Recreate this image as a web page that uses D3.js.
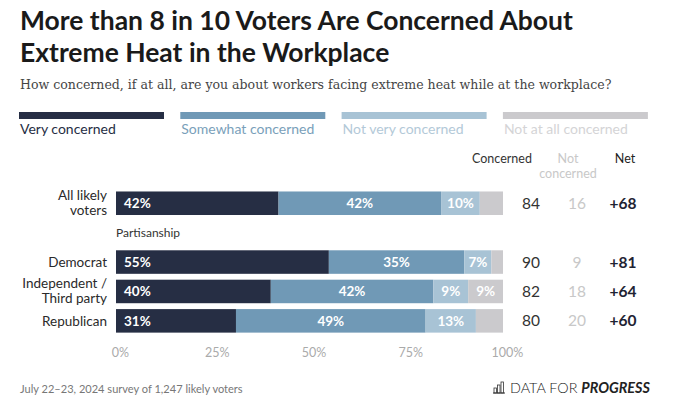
<!DOCTYPE html>
<html>
<head>
<meta charset="utf-8">
<script src="https://cdn.jsdelivr.net/npm/d3@7"></script>
<style>
  body { margin: 0; background: #fff; }
  svg { display: block; font-family: Lato, "Open Sans", sans-serif; }
</style>
</head>
<body>
<svg id="chart" width="689" height="420"></svg>
<script>
// Chart data
const categories = ["Very concerned", "Somewhat concerned", "Not very concerned", "Not at all concerned"];
const colors = ["#262e44", "#7099b6", "#a8c3d5", "#cbcacd"];
const legendTextColors = ["#262e44", "#7a9fba", "#b3c9d8", "#d4d4d6"];
const groups = ["All likely voters", "Democrat", "Independent / Third party", "Republican"];
const groupLines = [["All likely", "voters"], ["Democrat"], ["Independent /", "Third party"], ["Republican"]];
const veryConcerned = [42, 55, 40, 31];
const somewhatConcerned = [42, 35, 42, 49];
const notVeryConcerned = [10, 7, 9, 13];
const notAtAllConcerned = [6, 3, 9, 7];
const concernedTotal = [84, 90, 82, 80];
const notConcernedTotal = [16, 9, 18, 20];
const netValues = ["+68", "+81", "+64", "+60"];
const tickValues = [0, 25, 50, 75, 100];

const svg = d3.select("#chart");

// Shrink/grow a text's font so it spans a given width
function fitWidth(sel, target) {
    const size = parseFloat(sel.style("font-size"));
    const len = sel.node().getComputedTextLength();
    sel.style("font-size", (size * target / len).toFixed(2) + "px");
    return size * target / len;
}

// Title
const t1 = svg.append("text").attr("x", 20).attr("y", 30)
    .style("font-size", "27px").style("font-weight", 700).style("fill", "#1a1a1a")
    .text("More than 8 in 10 Voters Are Concerned About");
const titleSize = fitWidth(t1, 553);
svg.append("text").attr("x", 20).attr("y", 62)
    .style("font-size", titleSize + "px").style("font-weight", 700).style("fill", "#1a1a1a")
    .text("Extreme Heat in the Workplace");

const sub = svg.append("text").attr("x", 20).attr("y", 89)
    .style("font-family", "'DejaVu Serif', 'Liberation Serif', serif")
    .style("font-size", "15px").style("fill", "#444")
    .text("How concerned, if at all, are you about workers facing extreme heat while at the workplace?");
fitWidth(sub, 592);

// Legend
const legend = svg.append("g").selectAll("g")
    .data(categories)
    .enter().append("g")
    .attr("transform", (d, i) => `translate(${19 + i * 161.3},112)`);

legend.append("rect")
    .attr("width", 145).attr("height", 7)
    .style("fill", (d, i) => colors[i]);

legend.append("text")
    .attr("x", 1).attr("y", 22)
    .style("font-size", "14px")
    .style("fill", (d, i) => legendTextColors[i])
    .text(d => d);

// Scales
const x = d3.scaleLinear().domain([0, 100]).range([116, 503]);
const slots = ["All likely voters", "Partisanship", "Democrat", "Independent / Third party", "Republican"];
const y = d3.scaleBand().domain(slots).range([185.6, 338.5]).padding(0.2);

// Stack the four response series
const rows = groups.map((g, i) => ({
    group: g,
    lines: groupLines[i],
    values: [veryConcerned[i], somewhatConcerned[i], notVeryConcerned[i], notAtAllConcerned[i]]
}));
rows.forEach(r => {
    let acc = 0;
    r.segs = r.values.map((v, k) => {
        const s = { k: k, v: v, x0: acc, x1: acc + v };
        acc += v;
        return s;
    });
});

const rowG = svg.append("g").selectAll("g")
    .data(rows)
    .enter().append("g")
    .attr("transform", d => `translate(0,${y(d.group)})`);

rowG.selectAll("rect")
    .data(d => d.segs)
    .enter().append("rect")
    .attr("x", d => x(d.x0))
    .attr("width", d => x(d.x1) - x(d.x0))
    .attr("height", y.bandwidth())
    .style("fill", d => colors[d.k]);

// Values inside segments (first one left aligned, others centred)
rowG.selectAll("text.val")
    .data(d => d.segs.filter(s => s.v >= (s.k === 3 ? 8 : 7)))
    .enter().append("text")
    .attr("class", "val")
    .attr("x", d => d.k === 0 ? x(d.x0) + 8 : (x(d.x0) + x(d.x1)) / 2)
    .attr("y", y.bandwidth() / 2)
    .attr("dy", "0.36em")
    .style("text-anchor", d => d.k === 0 ? "start" : "middle")
    .style("font-size", "13.5px").style("font-weight", 700).style("fill", "#fff")
    .text(d => d.v + "%");

// Group labels, one tspan per line
const lineGap = 15.5;
rowG.append("text")
    .style("text-anchor", "end")
    .style("font-size", "13.5px").style("fill", "#2a2a2a")
    .selectAll("tspan")
    .data(d => d.lines.map((l, i) => ({ text: l, i: i, n: d.lines.length })))
    .enter().append("tspan")
    .attr("x", 107)
    .attr("y", d => y.bandwidth() / 2 + 5 - (d.n - 1) * 8.5 + d.i * lineGap)
    .text(d => d.text);

// Summary columns
const cols = [
    { head: ["Concerned"], hx: 502, nx: 531, vals: concernedTotal, color: "#333", weight: 400, hcolor: "#333" },
    { head: ["Not", "concerned"], hx: 568, nx: 577, vals: notConcernedTotal, color: "#c8c8c8", weight: 400, hcolor: "#c8c8c8" },
    { head: ["Net"], hx: 625, nx: 623, vals: netValues, color: "#1f2433", weight: 700, hcolor: "#222" }
];

cols.forEach(c => {
    svg.append("text")
        .attr("x", c.hx).attr("y", 163)
        .style("text-anchor", "middle").style("font-size", "12.5px").style("fill", c.hcolor)
        .selectAll("tspan")
        .data(c.head)
        .enter().append("tspan")
        .attr("x", c.hx)
        .attr("dy", (d, i) => i === 0 ? 0 : 15)
        .text(d => d);

    rowG.append("text")
        .attr("x", c.nx)
        .attr("y", y.bandwidth() / 2)
        .attr("dy", "0.36em")
        .style("text-anchor", "middle").style("font-size", "15.5px")
        .style("font-weight", c.weight).style("fill", c.color)
        .text((d, i) => c.vals[i]);
});

// Partisanship sub-heading
svg.append("text")
    .attr("x", 116).attr("y", y("Partisanship") + y.bandwidth() / 2)
    .attr("dy", "0.36em")
    .style("font-size", "12px").style("fill", "#333")
    .text("Partisanship");

// X axis
const axis = svg.append("g")
    .attr("transform", "translate(0,345)")
    .call(d3.axisBottom(x).tickValues(tickValues).tickSize(0).tickPadding(3).tickFormat(d => d + "%"));
axis.select(".domain").remove();
axis.selectAll("text")
    .attr("dx", 4)
    .style("font-family", "Lato, sans-serif").style("font-size", "12.5px").style("fill", "#aaa");

// Footer
const foot = svg.append("text").attr("x", 20).attr("y", 393)
    .style("font-size", "11.5px").style("fill", "#777")
    .text("July 22\u201323, 2024 survey of 1,247 likely voters");
fitWidth(foot, 223);

// Logo
const logo = svg.append("g").attr("transform", "translate(494,393)");
[[0, 5], [3.5, 8], [7, 11]].forEach(b => {
    logo.append("rect").attr("x", b[0]).attr("y", -b[1]).attr("width", 2.5).attr("height", b[1])
        .style("fill", "none").style("stroke", "#333").style("stroke-width", 0.8);
});
logo.append("line").attr("x1", -1).attr("x2", 11).attr("y1", 0).attr("y2", 0)
    .style("stroke", "#333").style("stroke-width", 1);
const logoText = logo.append("text").attr("x", 16).attr("y", 0)
    .style("font-size", "16px").style("fill", "#222");
logoText.append("tspan").style("font-weight", 300).text("DATA FOR ");
logoText.append("tspan").style("font-weight", 700).style("font-style", "italic").text("PROGRESS");
fitWidth(logoText, 140);
</script>
</body>
</html>
